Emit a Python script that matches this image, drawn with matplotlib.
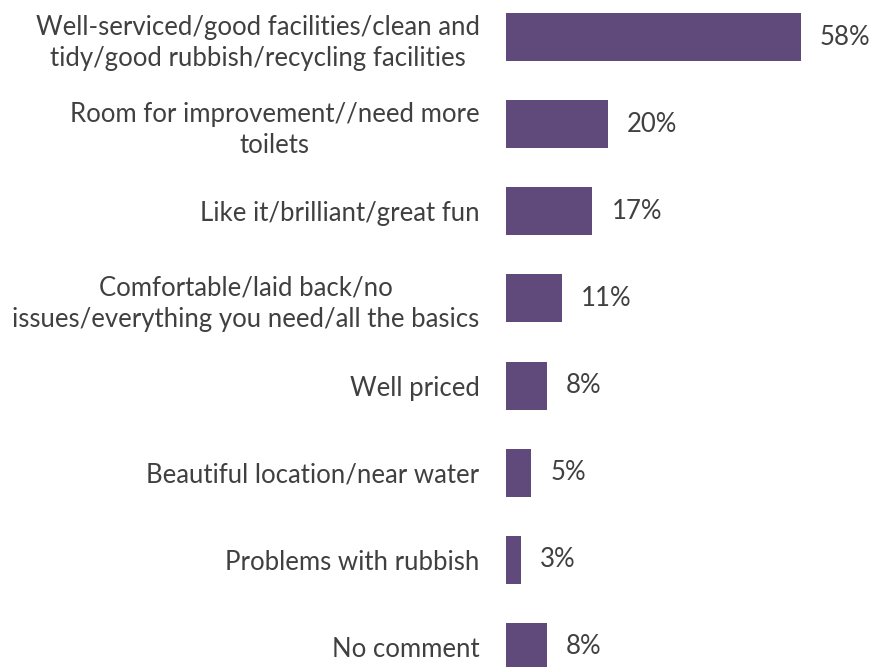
import matplotlib
matplotlib.use("Agg")
import matplotlib.pyplot as plt

# Response categories (top to bottom) and share of mentions
categories = [
    "Well-serviced/good facilities/clean and\ntidy/good rubbish/recycling facilities",
    "Room for improvement//need more\ntoilets",
    "Like it/brilliant/great fun",
    "Comfortable/laid back/no\nissues/everything you need/all the basics",
    "Well priced",
    "Beautiful location/near water",
    "Problems with rubbish",
    "No comment",
]
values = [58, 20, 17, 11, 8, 5, 3, 8]

BAR_COLOR = "#604A7B"
TEXT_COLOR = "#404040"

plt.rcParams["font.family"] = ["Lato", "DejaVu Sans"]

fig = plt.figure(figsize=(8.71, 6.67), dpi=100)
ax = fig.add_axes([506 / 871, 0, 365 / 871, 1])

positions = list(range(len(categories)))
ax.barh(positions, values, height=0.55, color=BAR_COLOR)

ax.set_xlim(0, 58 * 365 / 295)
ax.set_ylim(7 + 0.23, -0.425)

ax.set_yticks(positions)
ax.set_yticklabels(categories, fontsize=18.5, color=TEXT_COLOR)
for lbl in ax.get_yticklabels():
    lbl.set_multialignment("center")
    lbl.set_linespacing(1.32)
ax.tick_params(axis="y", length=0, pad=19)
ax.set_xticks([])

for pos, val in zip(positions, values):
    ax.annotate(f"{val}%", (val, pos), xytext=(19, 0), textcoords="offset pixels",
                va="center", ha="left", fontsize=18.5, color=TEXT_COLOR)

for side in ax.spines.values():
    side.set_visible(False)

fig.savefig("out.png", dpi=100, facecolor="white")
